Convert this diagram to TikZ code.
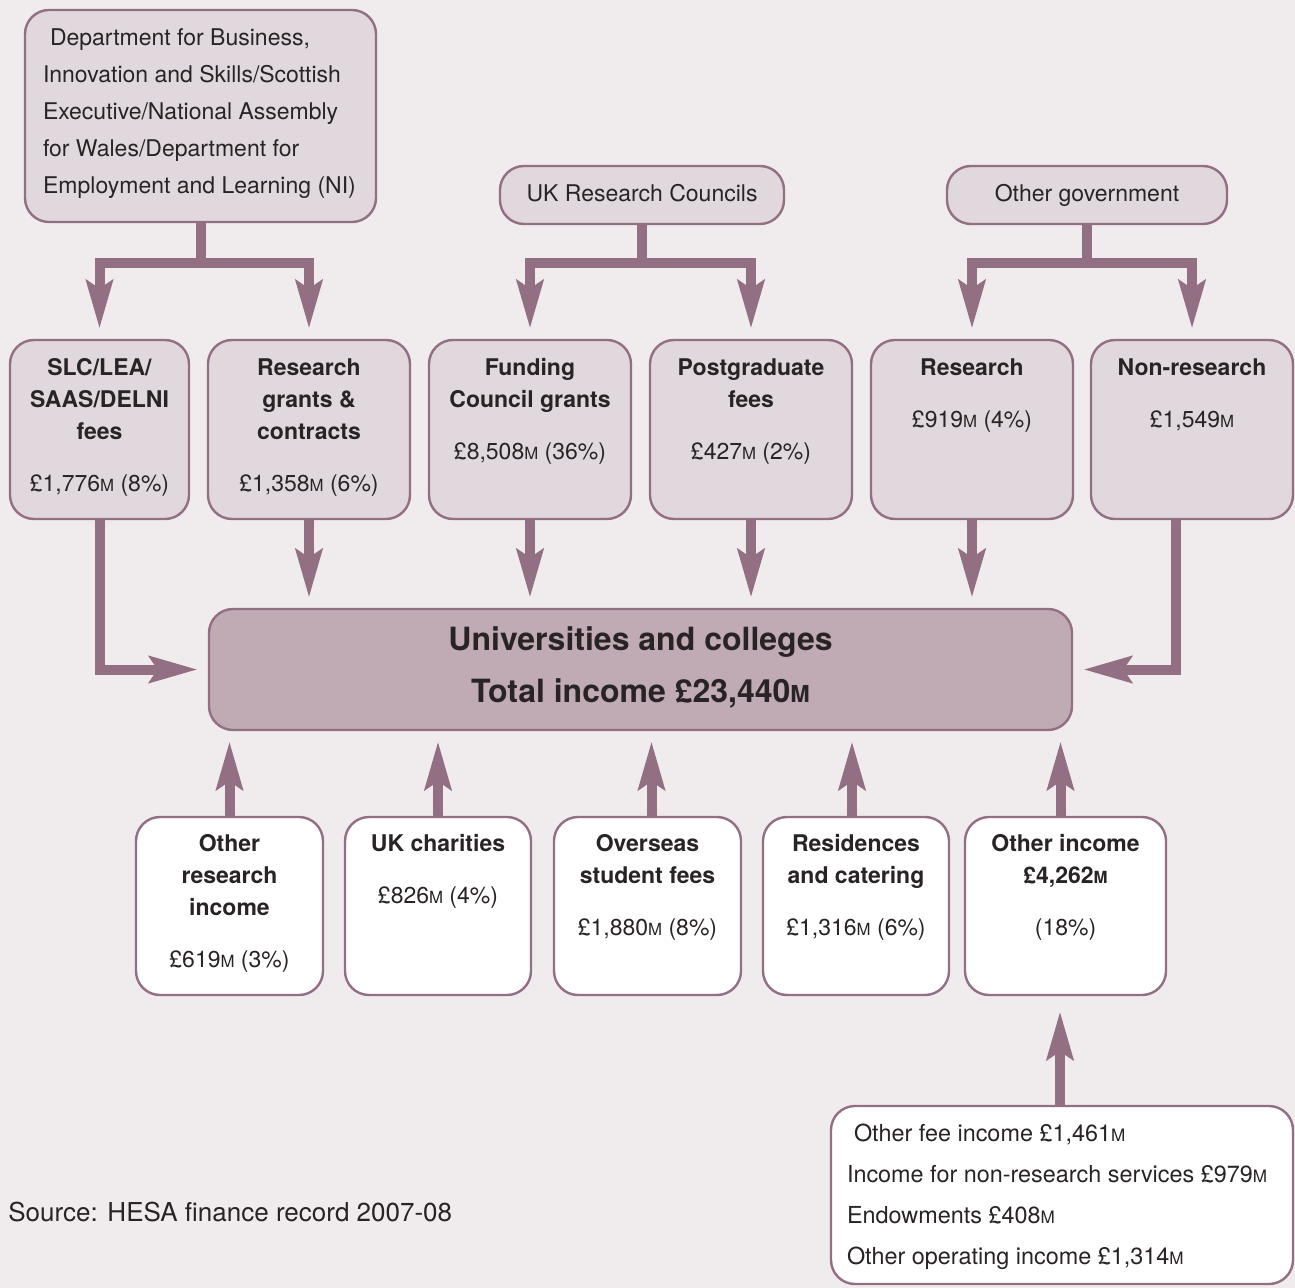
\documentclass[tikz,border=0pt]{standalone}
\usepackage{fontspec}
\setmainfont{TeX Gyre Heros}
\usepackage{graphicx}
\usetikzlibrary{arrows.meta,calc}

\definecolor{paper}{RGB}{240,236,238}
\definecolor{boxfill}{RGB}{224,216,220}
\definecolor{plum}{RGB}{147,111,132}
\definecolor{unifill}{RGB}{192,170,180}
\definecolor{ink}{RGB}{40,36,38}

\newcommand{\mil}{\scalebox{0.73}{M}}
\newcommand{\boxtxt}[5][17.75pt]{\parbox[t][#3][t]{#2}{#4\rule{0pt}{#1}#5}}

\tikzset{
  box/.style={draw=plum, fill=boxfill, line width=1.2pt, rounded corners=12pt, inner sep=0pt, text=ink},
  wbox/.style={box, fill=white},
  flow/.style={draw=plum, line width=5pt, -{Stealth[length=24pt,width=13pt,inset=4pt]}, shorten >=5pt},
}

\begin{document}
\begin{tikzpicture}[x=0.5pt, y=-0.5pt, font=\fontsize{11.5}{16}\selectfont]
  \fill[paper] (0,0) rectangle (1295,1288);
  \useasboundingbox (0,0) rectangle (1295,1288);

  % funders
  \node[box, inner xsep=9pt] (gov) at (200.5,116) {\boxtxt{157.5pt}{106pt}{\raggedright\fontsize{11.5}{18.5}\selectfont}{\hspace*{3.5pt}Department for Business,\\Innovation and Skills/Scottish\\Executive/National Assembly\\for Wales/Department for\\Employment and Learning (NI)}};
  \node[box] (ukrc) at (642,195) {\boxtxt{142pt}{29pt}{\centering}{UK Research Councils}};
  \node[box] (othgov) at (1087,195) {\boxtxt{140pt}{29pt}{\centering}{Other government}};

  % routes
  \node[box] (slc) at (99.5,429.5) {\boxtxt{89.5pt}{89.5pt}{\centering\bfseries}{SLC/LEA/\\SAAS/DELNI\\fees\\[10pt]\mdseries £1,776\mil{} (8\%)}};
  \node[box] (rgc) at (309,429.5) {\boxtxt{101pt}{89.5pt}{\centering\bfseries}{Research\\grants \&\\contracts\\[10pt]\mdseries £1,358\mil{} (6\%)}};
  \node[box] (fcg) at (530,429.5) {\boxtxt{101pt}{89.5pt}{\centering\bfseries}{Funding\\Council grants\\[10pt]\mdseries £8,508\mil{} (36\%)}};
  \node[box] (pgf) at (751,429.5) {\boxtxt{101pt}{89.5pt}{\centering\bfseries}{Postgraduate\\fees\\[10pt]\mdseries £427\mil{} (2\%)}};
  \node[box] (res) at (972,429.5) {\boxtxt{101pt}{89.5pt}{\centering\bfseries}{Research\\[10pt]\mdseries £919\mil{} (4\%)}};
  \node[box] (nonres) at (1192,429.5) {\boxtxt{101pt}{89.5pt}{\centering\bfseries}{Non-research\\[10pt]\mdseries £1,549\mil}};

  % total
  \node[box, fill=unifill] (uni) at (640.5,669.5) {\boxtxt[20.5pt]{431.5pt}{60.5pt}{\centering\bfseries\fontsize{16}{26}\selectfont}{Universities and colleges\\Total income £23,440\mil}};

  % other sources
  \node[wbox] (ori) at (229.5,906) {\boxtxt[17.25pt]{93.5pt}{89pt}{\centering\bfseries}{Other\\research\\income\\[10pt]\mdseries £619\mil{} (3\%)}};
  \node[wbox] (ukc) at (438,906) {\boxtxt[17.25pt]{93pt}{89pt}{\centering\bfseries}{UK charities\\[10pt]\mdseries £826\mil{} (4\%)}};
  \node[wbox] (osf) at (647.5,906) {\boxtxt[17.25pt]{93.5pt}{89pt}{\centering\bfseries}{Overseas\\student fees\\[10pt]\mdseries £1,880\mil{} (8\%)}};
  \node[wbox] (rac) at (856,906) {\boxtxt[17.25pt]{93pt}{89pt}{\centering\bfseries}{Residences\\and catering\\[10pt]\mdseries £1,316\mil{} (6\%)}};
  \node[wbox] (oin) at (1065.5,906) {\boxtxt[17.25pt]{100.5pt}{89pt}{\centering\bfseries}{Other income\\£4,262\mil\\[10pt]\mdseries (18\%)}};
  \node[wbox, inner xsep=8pt] (det) at (1062,1195) {\boxtxt{215pt}{89pt}{\raggedright\fontsize{11.7}{20.5}\selectfont}{\hspace*{3.5pt}Other fee income £1,461\mil\\Income for non-research services £979\mil\\Endowments £408\mil\\Other operating income £1,314\mil}};

  \node[anchor=base west, text=ink, inner sep=0pt, font=\fontsize{13}{16}\selectfont] (src) at (8,1221.5) {Source: HESA finance record 2007-08};

  % connectors
  \draw[flow] (gov.south) -- ++(0,40) -| (slc.north);
  \draw[flow] (gov.south) -- ++(0,40) -| (rgc.north);
  \draw[flow] (ukrc.south) -- ++(0,38) -| (fcg.north);
  \draw[flow] (ukrc.south) -- ++(0,38) -| (pgf.north);
  \draw[flow] (othgov.south) -- ++(0,38) -| (res.north);
  \draw[flow] (othgov.south) -- ++(0,38) -| (nonres.north);

  \draw[flow] (slc.south) |- (uni.west);
  \foreach \n in {rgc,fcg,pgf,res}
    \draw[flow] (\n.south) -- (\n.south |- uni.north);
  \draw[flow] ([xshift=-8pt]nonres.south) |- (uni.east);

  \foreach \n/\dx in {ori/0pt,ukc/0pt,osf/2pt,rac/-2pt,oin/-2.5pt}
    \draw[flow] ([xshift=\dx]\n.north) -- ([xshift=\dx]\n.north |- uni.south);
  \draw[flow, shorten >=7.5pt] ([xshift=-1pt]det.north) -- ([xshift=-1pt]det.north |- oin.south);
\end{tikzpicture}
\end{document}
